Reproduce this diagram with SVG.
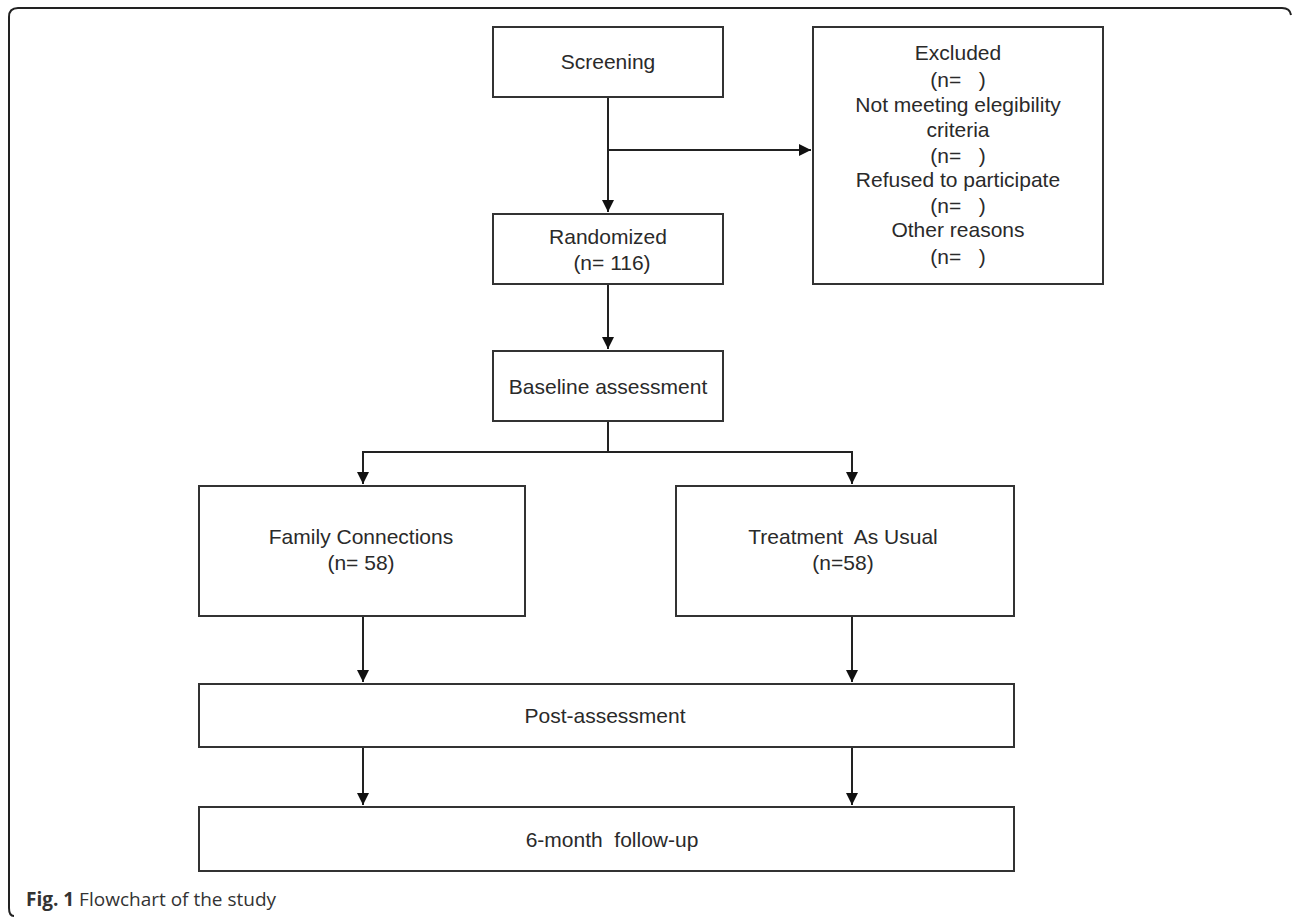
<svg xmlns="http://www.w3.org/2000/svg" width="1292" height="917" viewBox="0 0 1292 917">
<defs>
<style>
.box{fill:#fff;stroke:#333;stroke-width:2}
.t{font-family:"Liberation Sans",Arial,sans-serif;font-size:21px;fill:#2a2a2a;text-anchor:middle}
.c{stroke:#222;stroke-width:2;fill:none}
.cap{font-family:"Open Sans","Noto Sans",sans-serif;font-size:19px;fill:#333}
</style>
<marker id="ah" markerWidth="12" markerHeight="12" viewBox="0 0 12 12" refX="12" refY="6" orient="auto" markerUnits="userSpaceOnUse">
<path d="M0,0 L12,6 L0,12 z" fill="#111"/>
</marker>
</defs>
<rect width="1292" height="917" fill="#fff"/>
<path d="M1291,15 Q1290,8 1282,8 L18,8 Q9,8 9,17 L9,908 Q9,916 14,916" fill="none" stroke="#222" stroke-width="2"/>
<g id="connectors">
<path class="c" d="M608,97 V212" marker-end="url(#ah)"/>
<path class="c" d="M608,150 H811" marker-end="url(#ah)"/>
<path class="c" d="M608,284 V349" marker-end="url(#ah)"/>
<path class="c" d="M608,421 V452"/>
<path class="c" d="M608,452 H363 V484" marker-end="url(#ah)"/>
<path class="c" d="M608,452 H852 V484" marker-end="url(#ah)"/>
<path class="c" d="M363,616 V682" marker-end="url(#ah)"/>
<path class="c" d="M852,616 V682" marker-end="url(#ah)"/>
<path class="c" d="M363,747 V805" marker-end="url(#ah)"/>
<path class="c" d="M852,747 V805" marker-end="url(#ah)"/>
</g>
<g id="screening"><rect class="box" x="493" y="27" width="230" height="70"/><text class="t" x="608" y="69">Screening</text></g>
<g id="excluded"><rect class="box" x="813" y="27" width="290" height="257"/>
<text class="t" x="958" y="60">Excluded</text>
<text class="t" x="958" y="87" xml:space="preserve">(n=   )</text>
<text class="t" x="958" y="112">Not meeting elegibility</text>
<text class="t" x="958" y="137">criteria</text>
<text class="t" x="958" y="163" xml:space="preserve">(n=   )</text>
<text class="t" x="958" y="187">Refused to participate</text>
<text class="t" x="958" y="213" xml:space="preserve">(n=   )</text>
<text class="t" x="958" y="237">Other reasons</text>
<text class="t" x="958" y="264" xml:space="preserve">(n=   )</text>
</g>
<g id="randomized"><rect class="box" x="493" y="214" width="230" height="70"/><text class="t" x="608" y="244">Randomized</text><text class="t" x="612" y="270">(n= 116)</text></g>
<g id="baseline"><rect class="box" x="493" y="351" width="230" height="70"/><text class="t" x="608" y="394">Baseline assessment</text></g>
<g id="family"><rect class="box" x="199" y="486" width="326" height="130"/><text class="t" x="361" y="544">Family Connections</text><text class="t" x="361" y="570">(n= 58)</text></g>
<g id="tau"><rect class="box" x="676" y="486" width="338" height="130"/><text class="t" x="843" y="544" xml:space="preserve">Treatment  As Usual</text><text class="t" x="843" y="570">(n=58)</text></g>
<g id="post"><rect class="box" x="199" y="684" width="815" height="63"/><text class="t" x="605" y="723">Post-assessment</text></g>
<g id="followup"><rect class="box" x="199" y="807" width="815" height="64"/><text class="t" x="612" y="847" xml:space="preserve">6-month  follow-up</text></g>
<text class="cap" x="26" y="906"><tspan font-weight="bold">Fig. 1</tspan> Flowchart of the study</text>
</svg>
